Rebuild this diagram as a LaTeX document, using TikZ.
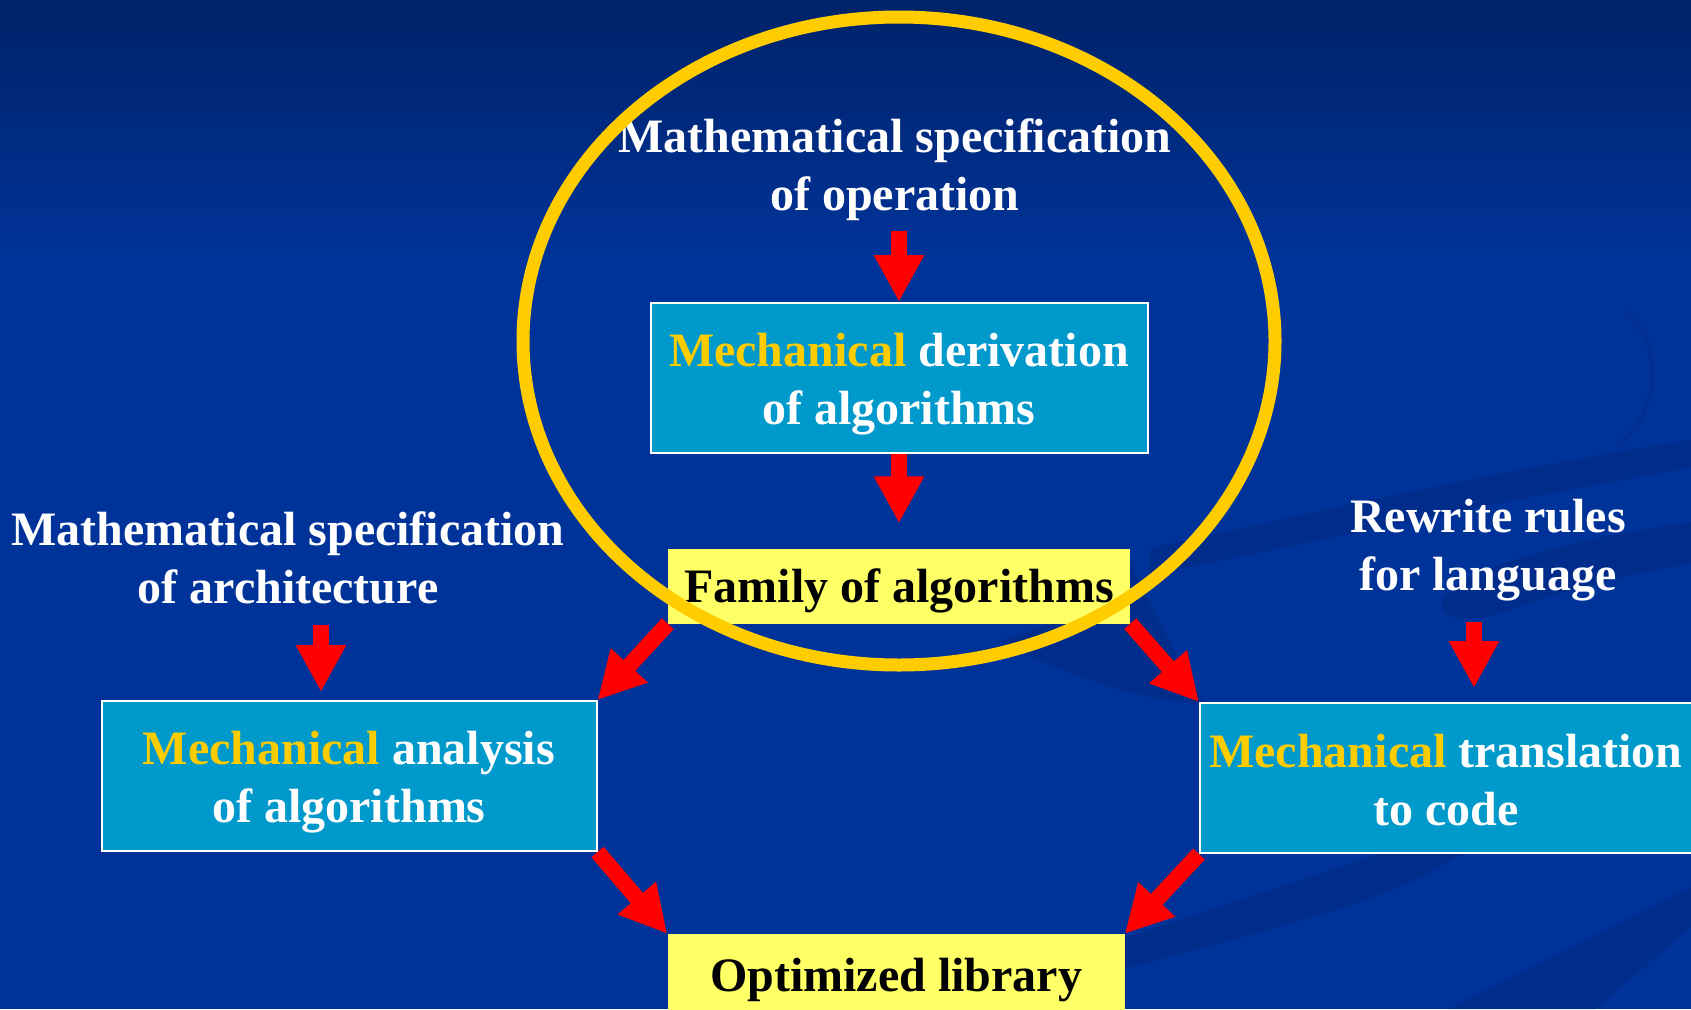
\documentclass[tikz,border=0pt]{standalone}
\usepackage{fontspec}
\setmainfont{Liberation Serif}
\usetikzlibrary{arrows.meta}

\definecolor{bgtop}{RGB}{0,34,104}
\definecolor{bgmain}{RGB}{0,51,153}
\definecolor{swoosh}{RGB}{0,42,134}
\definecolor{boxblue}{RGB}{0,153,204}
\definecolor{paleyellow}{RGB}{255,255,102}
\definecolor{gold}{RGB}{255,204,0}
\definecolor{arrowred}{RGB}{255,0,0}

\newcommand{\mech}{\textcolor{gold}{Mechanical}}

\begin{document}
\begin{tikzpicture}[x=1pt,y=-1pt,
  bigfont/.style={font=\bfseries\fontsize{48}{58}\selectfont},
  caption/.style={bigfont, text=white, align=center, inner sep=0pt},
  stagebox/.style={draw=white, line width=2pt, fill=boxblue, inner sep=0pt,
    minimum width=497pt, minimum height=150pt},
  stagetext/.style={bigfont, text=white, align=center, inner sep=0pt},
  resultbox/.style={fill=paleyellow, inner sep=0pt, minimum height=75pt},
  resulttext/.style={bigfont, text=black, inner sep=0pt},
  blockarrow/.style={draw=arrowred, line width=16pt,
    -{Triangle[width=47pt,length=47pt]}},
  band/.style={fill=swoosh, opacity=0.7}
]
\useasboundingbox (0,0) rectangle (1691,1009);
\clip (0,0) rectangle (1691,1009);

% background
\fill[bgmain] (0,0) rectangle (1691,1009);
\shade[top color=bgtop, bottom color=bgmain] (0,0) rectangle (1691,260);

% faint swooshes on the right
\fill[band] (1000,640) .. controls (1090,690) and (1160,700) .. (1205,705)
  .. controls (1180,660) and (1150,610) .. (1130,560)
  .. controls (1100,600) and (1060,625) .. (1000,640) -- cycle;
\fill[band] (1150,548) .. controls (1350,505) and (1500,470) .. (1691,440)
  -- (1691,468) .. controls (1500,500) and (1350,535) .. (1150,575) -- cycle;
\fill[band] (1691,522) .. controls (1560,540) and (1446,575) .. (1442,603)
  .. controls (1440,622) and (1475,624) .. (1520,606)
  .. controls (1580,585) and (1640,572) .. (1691,564) -- cycle;
\draw[swoosh, opacity=0.35, line width=5pt, line cap=round]
  (1627,312) .. controls (1660,340) and (1665,410) .. (1617,445);
\fill[band] (1100,946) -- (1383,853) -- (1462,853)
  .. controls (1400,900) and (1250,935) .. (1100,975) -- cycle;
\fill[band] (1448,1009) -- (1691,887) -- (1691,927) -- (1595,1009) -- cycle;

% stage and result boxes
\node[stagebox] (derive) at (899,378) {};
\node[resultbox, minimum width=462pt] (family) at (899,586) {};
\node[stagebox, minimum width=495pt] (analyse) at (349,776) {};
\node[stagebox, minimum width=500pt] (translate) at (1450,778) {};
\node[resultbox, minimum width=457pt, minimum height=86pt] (library) at (896,977) {};

% texts
\node[caption] (spec) at (895,170) {Mathematical specification\\of operation};
\node[caption] (arch) at (288,558) {Mathematical specification\\of architecture};
\node[caption] (rules) at (1488,550) {Rewrite rules\\for language};
\node[stagetext] (derivetext) at ([yshift=-6pt]derive.center) {\mech{} derivation\\of algorithms};
\node[stagetext] (analysetext) at ([yshift=-6pt]analyse.center) {\mech{} analysis\\of algorithms};
\node[stagetext] (translatetext) at ([xshift=-4pt, yshift=-2pt]translate.center) {\mech{} translation\\to code};
\node[resulttext] (familytext) at ([yshift=-5pt]family.center) {Family of algorithms};
\node[resulttext] (librarytext) at ([yshift=-3pt]library.center) {Optimized library};

% ring around the derivation stage
\draw[gold, line width=13pt] (899,341) ellipse [x radius=376, y radius=324];

% connectors
\draw[blockarrow] (spec.south -| derive.north) ++(0,10) -- (derive.north);
\draw[blockarrow, shorten >=25pt] (derive.south) -- (family.north);
\coordinate (archfoot) at (321,625);
\draw[blockarrow, shorten >=8pt] (archfoot) -- (archfoot |- analyse.north);
\coordinate (rulesfoot) at (1474,622);
\draw[blockarrow, shorten >=14pt] (rulesfoot) -- (rulesfoot |- translate.north);
\draw[blockarrow] (family.south west) -- (analyse.north east);
\draw[blockarrow] (family.south east) -- (translate.north west);
\draw[blockarrow] (analyse.south east) -- (library.north west);
\draw[blockarrow] (translate.south west) -- (library.north east);
\end{tikzpicture}
\end{document}
